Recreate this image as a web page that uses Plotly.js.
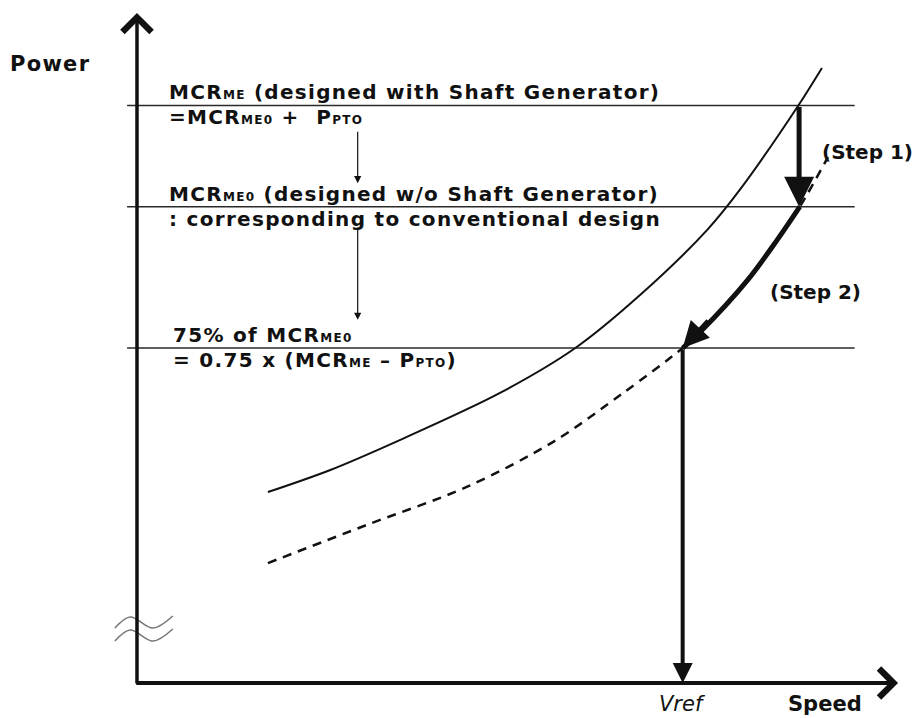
<!DOCTYPE html>
<html>
<head>
<meta charset="utf-8">
<script src="https://cdn.plot.ly/plotly-3.0.1.min.js"></script>
<style>html,body{margin:0;padding:0;background:#fff;}#chart{width:923px;height:718px;}</style>
</head>
<body>
<div id="chart"></div>
<script>
// ---- data (speed, power in arbitrary units; axis origin = 0,0) ----
const speedHigh = [17.2, 25.4, 34.6, 47.7, 57.6, 66.1, 74.9, 79.2, 86.9, 90.0];
const powerHigh = [28.5, 31.8, 36.3, 43.3, 50.0, 57.9, 67.6, 73.6, 86.2, 91.8];
const speedLow  = [17.2, 30.2, 43.4, 54.7, 63.9, 71.7, 74.0, 80.2, 84.1, 87.1, 90.8];
const powerLow  = [17.9, 23.6, 29.3, 36.0, 43.3, 50.0, 52.4, 60.1, 66.1, 71.1, 78.5];
const levelNames = ['MCR_ME', 'MCR_ME0', '75% MCR_ME0'];
const levelPower = [86.2, 71.1, 50.0];
const levelSpan  = [-1.3, 94.3];
const stepSpeed = 87.0;   // speed at MCR_ME on the design curve
const vrefSpeed = 71.7;   // reference speed at 75% MCR_ME0
const axisMax = 100;
const breakX = [-2.9, -0.9, 2.1, 4.7];
const breakY = [8.2, 9.85, 8.2, 10.0];
const breakGap = 1.94;

const FONT = 'DejaVu Sans, Arial, sans-serif';
const INK = '#111111';
const sm = t => '<span style="font-size:12px">' + t + '</span>';
const wide = t => '<span style="letter-spacing:1.3px">' + t + '</span>';

const traces = [];
levelPower.forEach((p, i) => traces.push({
  x: levelSpan, y: [p, p], mode: 'lines', name: levelNames[i],
  line: {color: '#2a2a2a', width: 1.5}, hoverinfo: 'skip'
}));
traces.push({x: speedHigh, y: powerHigh, mode: 'lines', name: 'with SG',
  line: {color: INK, width: 2, shape: 'spline', smoothing: 0.9}});
traces.push({x: speedLow, y: powerLow, mode: 'lines', name: 'w/o SG',
  line: {color: INK, width: 2.5, dash: '9px,7px', shape: 'spline', smoothing: 0.9}});
const s2x = [], s2y = [];
speedLow.forEach((s, i) => { if (s >= vrefSpeed && s <= stepSpeed + 0.2) { s2x.push(s); s2y.push(powerLow[i]); } });
traces.push({x: s2x, y: s2y, mode: 'lines', name: 'Step 2',
  line: {color: INK, width: 5, shape: 'spline', smoothing: 0.9}});
traces.push({x: breakX, y: breakY, mode: 'lines', line: {color: '#777', width: 1.5, shape: 'spline'}});
traces.push({x: breakX, y: breakY.map(v => v - breakGap), mode: 'lines', line: {color: '#777', width: 1.5, shape: 'spline'}});

function arrow(x, y, ax, ay, w, head, size) {
  return {x: x, y: y, ax: ax, ay: ay, xref: 'x', yref: 'y', axref: 'x', ayref: 'y',
    text: '', showarrow: true, arrowhead: head, arrowsize: size, arrowwidth: w,
    arrowcolor: INK, standoff: 0, startstandoff: 0};
}
function label(x, y, text, xa, ya, size, weight, extra) {
  return Object.assign({x: x, y: y, xref: 'x', yref: 'y', text: text, showarrow: false,
    xanchor: xa, yanchor: ya, align: 'left', borderpad: 0,
    font: {family: FONT, size: size, color: INK, weight: weight}}, extra || {});
}

const annotations = [
  arrow(0, axisMax, 0, -0.3, 3.5, 4, 1.6),
  arrow(axisMax, 0, -0.3, 0, 4, 4, 1.4),
  arrow(stepSpeed, levelPower[1], stepSpeed, levelPower[0], 5, 2, 1.2),
  arrow(vrefSpeed, levelPower[2], 75.2, 54.3, 4, 2, 1.3),
  arrow(vrefSpeed, 0, vrefSpeed, levelPower[2], 4, 2, 1),
  arrow(29.0, 74.6, 29.0, 82.5, 1.2, 2, 1.2),
  arrow(29.0, 54.2, 29.0, 68.2, 1.2, 2, 1.2),
  label(4.1, levelPower[0], wide('MCR' + sm('ME') + ' (designed with Shaft Generator)'), 'left', 'bottom', 20, 700, {yshift: 0}),
  label(4.1, levelPower[0], wide('=MCR' + sm('ME0') + ' +  P' + sm('PTO')), 'left', 'top', 20, 700, {yshift: 1}),
  label(4.1, levelPower[1], wide('MCR' + sm('ME0') + ' (designed w/o Shaft Generator)'), 'left', 'bottom', 20, 700, {yshift: 0}),
  label(4.1, levelPower[1], wide(': corresponding to conventional design'), 'left', 'top', 20, 700, {yshift: 1}),
  label(4.6, levelPower[2], wide('75% of MCR' + sm('ME0')), 'left', 'bottom', 20, 700, {yshift: 0}),
  label(4.6, levelPower[2], wide('= 0.75 x (MCR' + sm('ME') + ' – P' + sm('PTO') + ')'), 'left', 'top', 20, 700, {yshift: 1}),
  label(-16.8, 92.4, wide('Power'), 'left', 'middle', 21, 700),
  label(89.9, 79.3, '(Step 1)', 'left', 'middle', 20, 700),
  label(83.0, 58.4, '(Step 2)', 'left', 'middle', 20, 700),
  label(vrefSpeed, -3.2, '<i>Vref</i>', 'center', 'middle', 21, 400),
  label(90.4, -3.1, 'Speed', 'center', 'middle', 21, 700)
];

const layout = {
  width: 923, height: 718, margin: {l: 0, r: 0, t: 0, b: 0},
  paper_bgcolor: '#fff', plot_bgcolor: '#fff', showlegend: false,
  xaxis: {range: [-18.0, 103.28], visible: false, fixedrange: true},
  yaxis: {range: [-5.22, 101.94], visible: false, fixedrange: true},
  annotations: annotations
};
Plotly.newPlot('chart', traces, layout, {displayModeBar: false, staticPlot: true});
</script>
</body>
</html>
